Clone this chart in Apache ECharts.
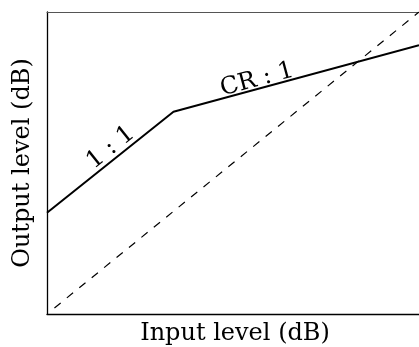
<!DOCTYPE html>
<html>
<head>
<meta charset="utf-8">
<script src="https://cdn.jsdelivr.net/npm/echarts@6/dist/echarts.min.js"></script>
<style>
  html, body { margin: 0; padding: 0; background: #fff; }
  #chart { width: 419px; height: 347px; }
</style>
</head>
<body>
<div id="chart"></div>
<script>
// Compressor transfer curve: 1:1 below threshold, CR:1 above it
const inputLevel = [0, 34, 100];
const outputLevel = [33.5, 67, 89];

// Reference line where output equals input
const unityInput = [2, 100];
const unityOutput = [2, 100];

// Slope annotations and where along the input axis they sit
const slopeLabels = ['1 : 1', 'CR : 1'];
const slopeLabelAt = [19, 57.1];

const FONT = 'DejaVu Serif';
const FONT_SIZE = 24;

// Point on the transfer curve for a given input level
function curveAt(x) {
  for (let i = 0; i < inputLevel.length - 1; i++) {
    const x0 = inputLevel[i], x1 = inputLevel[i + 1];
    if (x >= x0 && x <= x1) {
      const t = (x - x0) / (x1 - x0);
      return outputLevel[i] + t * (outputLevel[i + 1] - outputLevel[i]);
    }
  }
  return outputLevel[outputLevel.length - 1];
}

const chart = echarts.init(document.getElementById('chart'), null, { renderer: 'canvas' });

const xMin = 0, xMax = 100, yMin = 0, yMax = 100;
const gridBox = { left: 47, right: 0, top: 12, bottom: 33, outerBoundsMode: 'none', containLabel: false };

// Segment angle on screen, so labels sit parallel to the curve
const pxPerX = (419 - gridBox.left - gridBox.right) / (xMax - xMin);
const pxPerY = (347 - gridBox.top - gridBox.bottom) / (yMax - yMin);
function segAngle(i) {
  const dx = (inputLevel[i + 1] - inputLevel[i]) * pxPerX;
  const dy = (outputLevel[i + 1] - outputLevel[i]) * pxPerY;
  return Math.atan2(dy, dx) * 180 / Math.PI;
}
// Distance of each label above its segment, measured across the line
const labelLift = [11, 9];

const markData = slopeLabels.map((txt, i) => ({
  coord: [slopeLabelAt[i], curveAt(slopeLabelAt[i])],
  symbol: 'circle',
  symbolSize: 0,
  label: {
    show: true,
    formatter: txt,
    position: 'inside',
    rotate: segAngle(i),
    offset: [0, -labelLift[i]],
    fontFamily: FONT,
    fontSize: FONT_SIZE,
    color: '#000'
  }
}));

chart.setOption({
  animation: false,
  backgroundColor: '#fff',
  grid: gridBox,
  xAxis: [
    {
      type: 'value', min: xMin, max: xMax, position: 'bottom',
      name: 'Input level (dB)', nameLocation: 'middle', nameGap: 8,
      nameTextStyle: { fontFamily: FONT, fontSize: FONT_SIZE, color: '#000', padding: [0, 0, 0, 4] },
      axisLine: { show: true, lineStyle: { color: '#000', width: 1.3 } },
      axisTick: { show: false }, axisLabel: { show: false }, splitLine: { show: false }
    },
    {
      type: 'value', min: xMin, max: xMax, position: 'top',
      axisLine: { show: true, lineStyle: { color: '#555', width: 1 } },
      axisTick: { show: false }, axisLabel: { show: false }, splitLine: { show: false }
    }
  ],
  yAxis: {
    type: 'value', min: yMin, max: yMax,
    name: 'Output level (dB)', nameLocation: 'middle', nameGap: 12,
    nameTextStyle: { fontFamily: FONT, fontSize: FONT_SIZE, color: '#000' },
    axisLine: { show: true, lineStyle: { color: '#000', width: 1.3 } },
    axisTick: { show: false }, axisLabel: { show: false }, splitLine: { show: false }
  },
  series: [
    {
      type: 'line',
      data: unityInput.map((x, i) => [x, unityOutput[i]]),
      symbol: 'none',
      lineStyle: { color: '#000', width: 1.2, type: [8, 8] },
      z: 2
    },
    {
      type: 'line',
      data: inputLevel.map((x, i) => [x, outputLevel[i]]),
      symbol: 'none',
      lineStyle: { color: '#000', width: 2 },
      markPoint: { data: markData, silent: true },
      z: 3
    }
  ]
});
</script>
</body>
</html>
